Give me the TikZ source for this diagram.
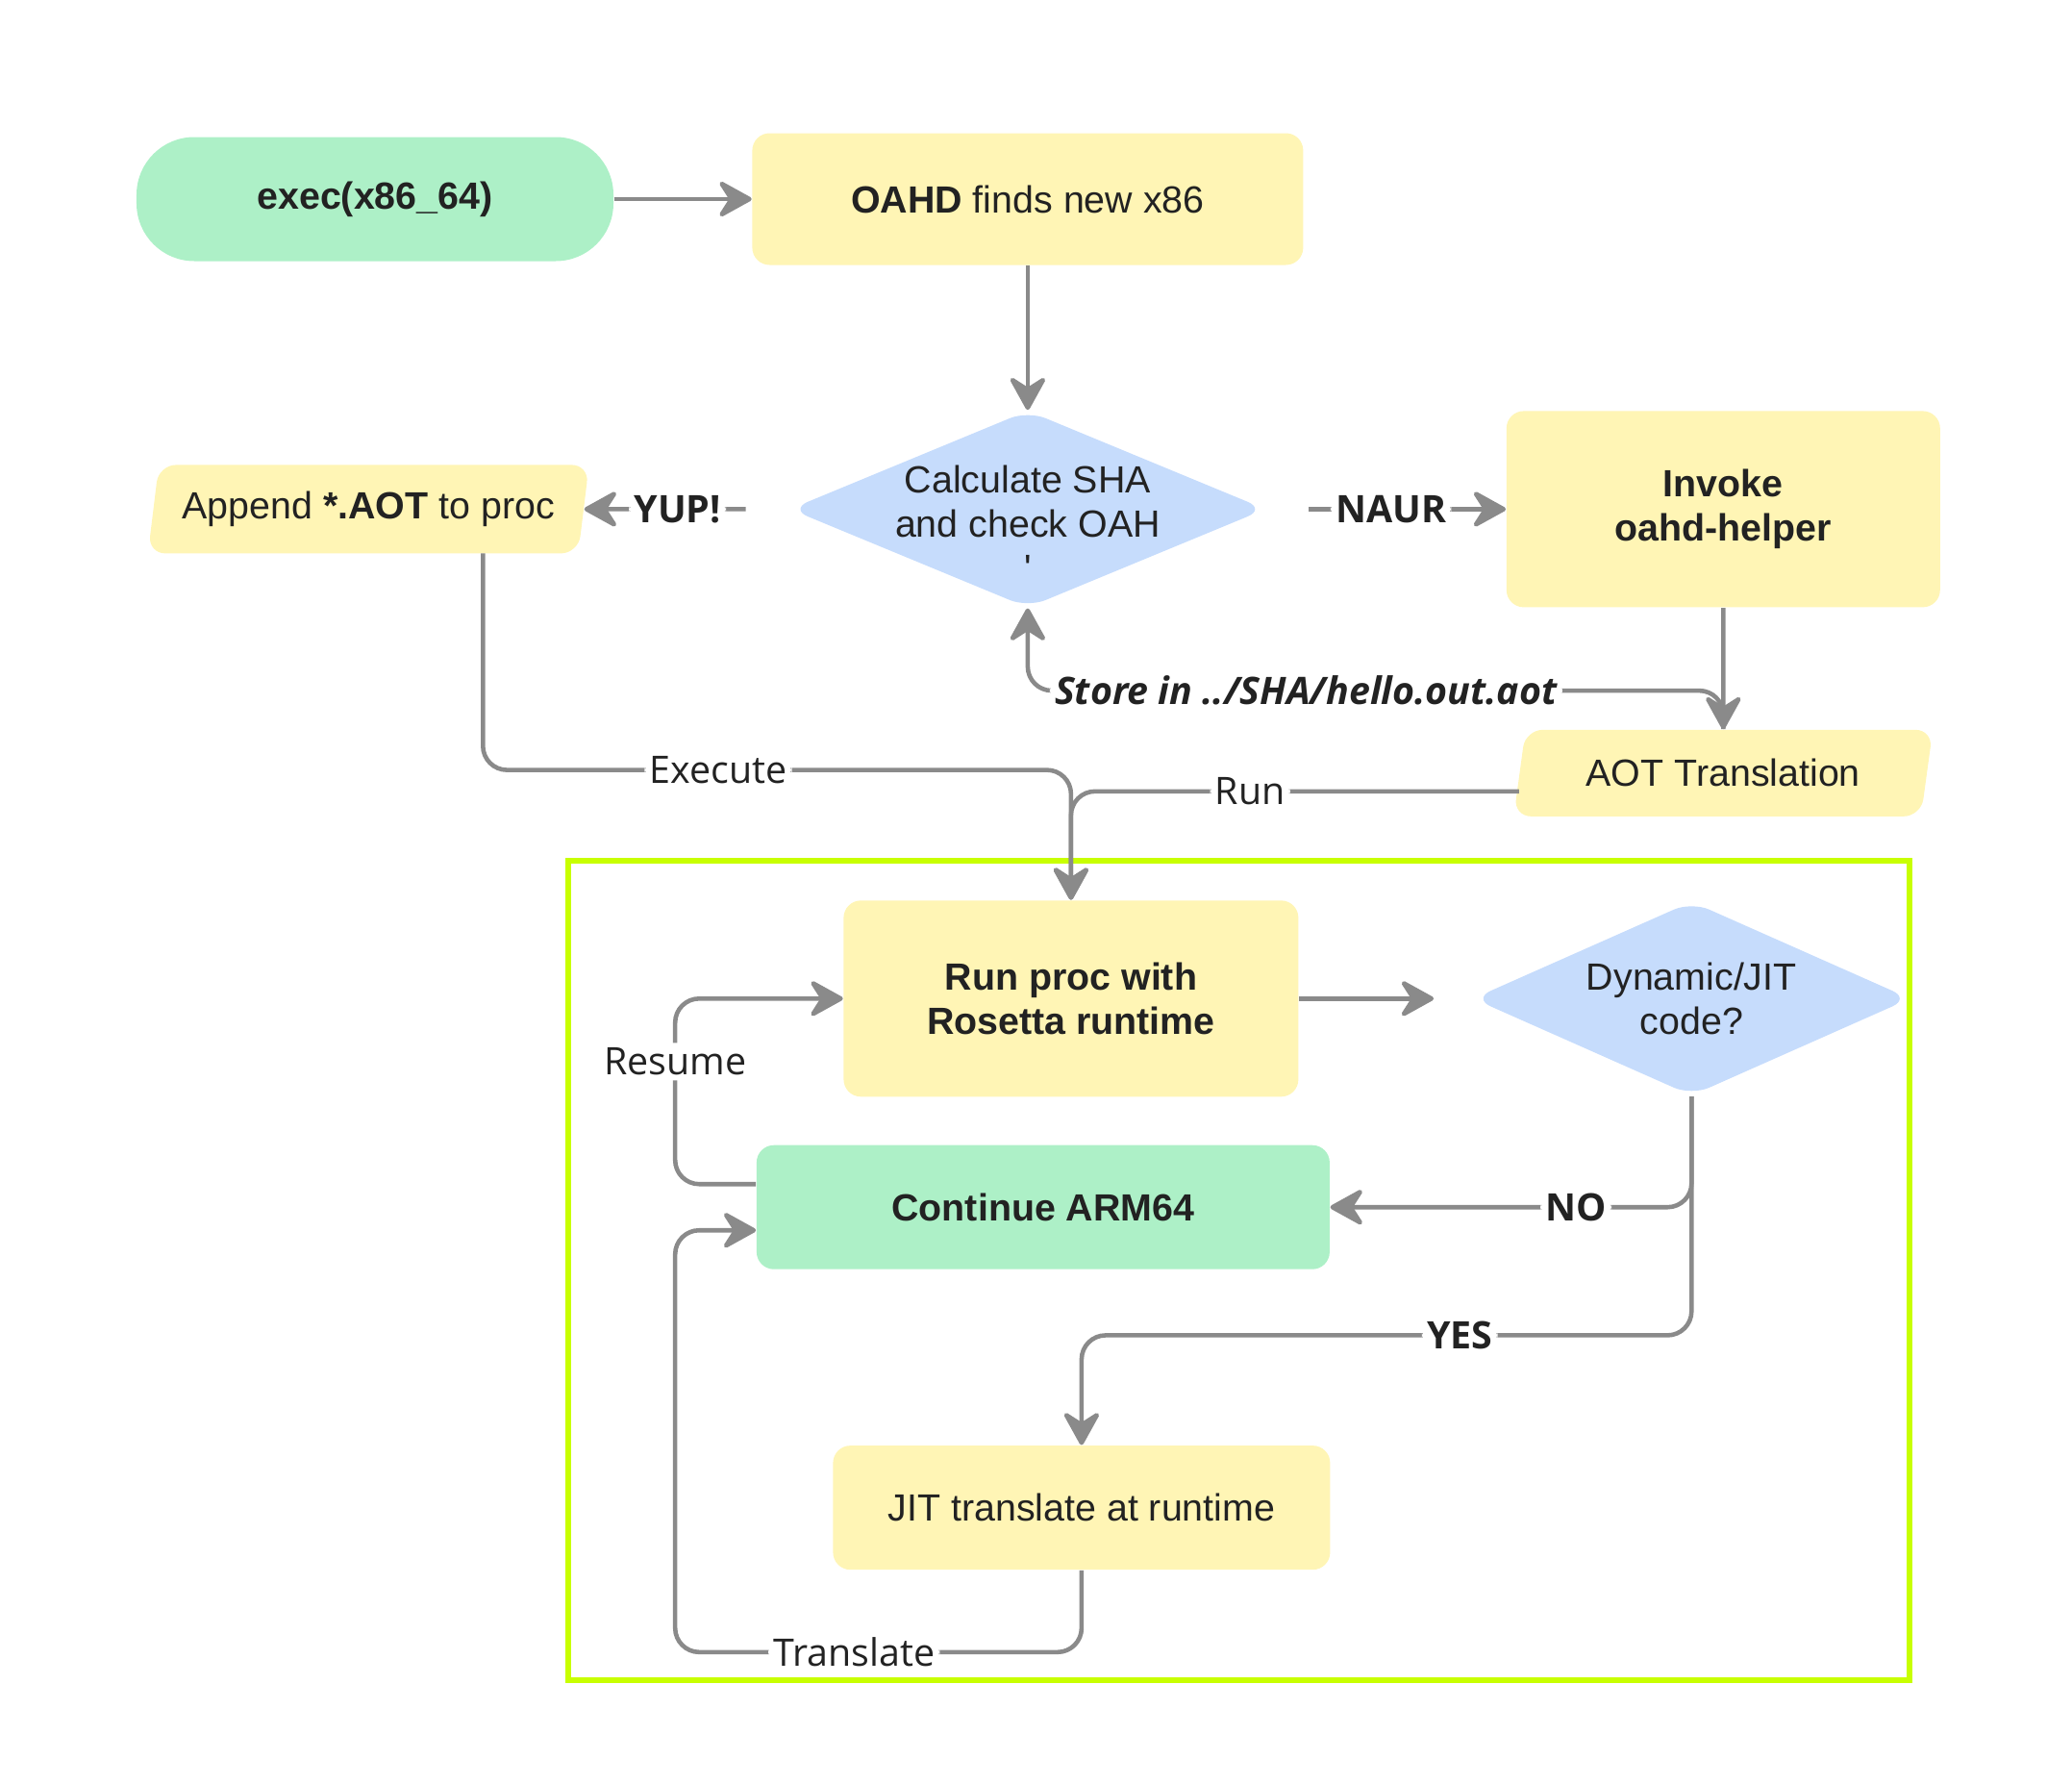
\documentclass[tikz,border=0pt]{standalone}
\usepackage{fontspec}
\setmainfont{Liberation Sans}
\newfontfamily\edgefont{Open Sans}
\usetikzlibrary{positioning,shapes.geometric,arrows.meta}
\definecolor{termgreen}{RGB}{173,240,199}
\definecolor{procyellow}{RGB}{255,245,181}
\definecolor{decblue}{RGB}{198,220,252}
\definecolor{flowgray}{RGB}{138,138,138}
\definecolor{framelime}{RGB}{200,255,0}
\definecolor{inkdark}{RGB}{34,34,34}
\begin{document}
\begin{tikzpicture}[font=\fontsize{11.2}{13}\selectfont, text=inkdark,
	procbox/.style={fill=procyellow, rounded corners=1.8mm, align=center},
	termbox/.style={fill=termgreen, align=center},
	iobox/.style={trapezium, trapezium left angle=80, trapezium right angle=100, trapezium stretches=true, fill=procyellow, rounded corners=1.8mm, align=center},
	decision/.style={diamond, fill=decblue, rounded corners=2mm, inner sep=0pt},
	flow/.style={draw=flowgray, line width=1.3pt, rounded corners=2.5mm, -{Stealth[length=4mm,width=4.4mm,inset=1.4mm,round]}},
	lbl/.style={fill=white, inner sep=1.5pt, font=\edgefont\fontsize{11.2}{13}\selectfont},
	blbl/.style={lbl, font=\edgefont\bfseries\fontsize{11.2}{13}\selectfont}]
		\useasboundingbox (0,0) rectangle (21.55,-18.56);
		\draw[framelime, line width=1.8pt] (5.91,-8.95) rectangle (19.86,-17.47);

		\node[termbox, rounded corners=6mm, minimum width=4.96cm, minimum height=1.29cm] (exec) at (3.90,-2.07) {\bfseries exec(x86\_64)};
		\node[procbox, right=1.43cm of exec, minimum width=5.73cm, minimum height=1.37cm] (oahd) {{\bfseries OAHD} finds new x86};
		\node[decision, below=1.5cm of oahd, minimum width=4.95cm, minimum height=2.05cm,
			label={[align=center, yshift=-1.5mm]center:Calculate SHA\\and check OAH\\\textquotesingle}] (calc) {};
		\node[iobox, left=2.13cm of calc, minimum width=4.59cm, minimum height=0.92cm] (append) {Append {\bfseries *.AOT} to proc};
		\node[procbox, right=2.49cm of calc, minimum width=4.51cm, minimum height=2.04cm] (invoke) {\bfseries Invoke\\\bfseries oahd-helper};
		\node[iobox, below=1.26cm of invoke, minimum width=4.38cm, minimum height=0.9cm] (aot) {AOT Translation};

		\node[procbox, below=3.03cm of calc, xshift=4.5mm, minimum width=4.73cm, minimum height=2.04cm] (run) {\bfseries Run proc with\\\bfseries Rosetta runtime};
		\node[decision, right=1.8cm of run, minimum width=4.55cm, minimum height=2.02cm,
			label={[align=center]center:Dynamic/JIT\\code?}] (dyn) {};
		\node[termbox, rounded corners=1.8mm, below=0.49cm of run, xshift=-2.9mm, minimum width=5.96cm, minimum height=1.29cm] (cont) {\bfseries Continue ARM64};
		\node[procbox, below=1.82cm of cont, xshift=4mm, minimum width=5.17cm, minimum height=1.29cm] (jit) {JIT translate at runtime};

		\draw[flow] (exec) -- (oahd);
		\draw[flow] (oahd) -- (calc);
		\draw[flow, shorten <=4.5mm] (calc) -- node[blbl, pos=0.545] {YUP!} (append);
		\draw[flow, shorten <=4.4mm] (calc) -- node[blbl, pos=0.52] {NAUR} (invoke);
		\draw[flow] (invoke) -- (aot);
		\draw[flow] (aot.north) -- ++(0,0.4) -| node[blbl, pos=0.3] {\itshape Store in ../SHA/hello.out.aot} (calc.south);
		\draw[flow] ([xshift=11.9mm,yshift=-4.6mm]append.center) |- node[lbl, pos=0.7] {Execute} ([yshift=1.35cm]run.north) -- (run.north);
		\draw[flow] ([yshift=-1.9mm]aot.west) -| node[lbl, pos=0.3] {Run} (run.north);
		\draw[flow, shorten >=4mm] (run) -- (dyn);
		\draw[flow] (dyn.south) |- node[blbl, pos=0.66] {NO} (cont.east);
		\draw[flow] (dyn.south) |- node[blbl, pos=0.69] {YES} ([yshift=1.14cm]jit.north) -- (jit.north);
		\draw[flow] (jit.south) -- ++(0,-0.85) -| node[lbl, pos=0.28] {Translate} ([xshift=-8.4mm,yshift=-2.4mm]cont.west) -- ([yshift=-2.4mm]cont.west);
		\draw[flow] ([yshift=2.4mm]cont.west) -- ++(-0.84,0) |- node[lbl, pos=0.33] {Resume} (run.west);
	\end{tikzpicture}
\end{document}
